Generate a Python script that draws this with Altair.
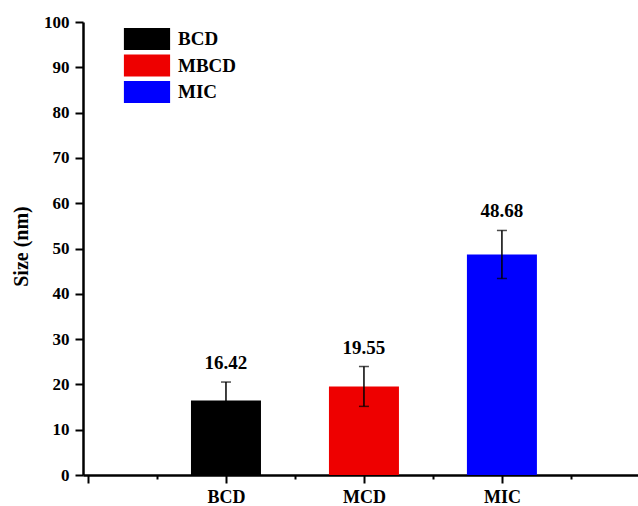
import altair as alt
import pandas as pd

categories = ["BCD", "MCD", "MIC"]
legend_labels = ["BCD", "MBCD", "MIC"]
positions = [1, 2, 3]
sizes = [16.42, 19.55, 48.68]
errors = [4.1, 4.4, 5.3]
colors = ["#000000", "#EE0000", "#0000FF"]

x_ticks = [0, 0.5, 1, 1.5, 2, 2.5, 3, 3.5]
y_ticks = list(range(0, 101, 5))

FONT = "Liberation Serif"

df = pd.DataFrame({
    "pos": positions,
    "cat": categories,
    "legend": legend_labels,
    "size": sizes,
    "err": errors,
})
df["lo"] = df["size"] - df["err"]
df["hi"] = df["size"] + df["err"]

label_expr = " : ".join(
    [f"datum.value == {p} ? '{c}'" for p, c in zip(positions, categories)]
) + " : ''"

x_scale = alt.Scale(domain=[0, 3.95], nice=False, zero=False)
y_scale = alt.Scale(domain=[0, 100], nice=False)

x_axis = alt.Axis(
    values=x_ticks,
    labelExpr=label_expr,
    title=None,
    grid=False,
    domainColor="black",
    domainWidth=2.5,
    tickColor="black",
    tickWidth=2,
    tickSize={"condition": {"test": "datum.value % 1 === 0", "value": 8}, "value": 4},
    labelFont=FONT,
    labelFontSize=18,
    labelFontWeight="bold",
    labelColor="black",
    labelPadding=5,
    labelOverlap=False,
    labelFlush=False,
)

y_axis = alt.Axis(
    values=y_ticks,
    labelExpr="datum.value % 10 === 0 ? datum.value : ''",
    title="Size (nm)",
    grid=False,
    domainColor="black",
    domainWidth=2.5,
    tickColor="black",
    tickWidth=2,
    tickSize={"condition": {"test": "datum.value % 10 === 0", "value": 8}, "value": 4},
    labelFont=FONT,
    labelFontSize=17,
    labelFontWeight="bold",
    labelColor="black",
    labelPadding=6,
    labelOverlap=False,
    labelFlush=False,
    titleFont=FONT,
    titleFontSize=20,
    titleFontWeight="bold",
    titleColor="black",
    titleAngle=-90,
    titleX=-62,
    titleY=224,
    titleAlign="center",
    titleBaseline="middle",
)

base = alt.Chart(df)

bars = base.mark_bar(size=70).encode(
    x=alt.X("pos:Q", scale=x_scale, axis=x_axis),
    y=alt.Y("size:Q", scale=y_scale, axis=y_axis),
    color=alt.Color(
        "legend:N",
        scale=alt.Scale(domain=legend_labels, range=colors),
        legend=alt.Legend(
            orient="none",
            legendX=53,
            legendY=6,
            title=None,
            padding=0,
            symbolType="M-2.1,-1L2.1,-1L2.1,1L-2.1,1Z",
            symbolSize=484,
            symbolStrokeWidth=0,
            symbolOpacity=1,
            labelOffset=20,
            labelFont=FONT,
            labelFontSize=19,
            labelFontWeight="bold",
            labelColor="black",
            rowPadding=4.5,
        ),
    ),
)

rules = base.mark_rule(color="black", strokeWidth=1.5).encode(
    x="pos:Q",
    y="lo:Q",
    y2="hi:Q",
)

caps_hi = base.mark_tick(orient="horizontal", size=10, thickness=1.5, color="black").encode(
    x="pos:Q",
    y="hi:Q",
)
caps_lo = base.mark_tick(orient="horizontal", size=10, thickness=1.5, color="black").encode(
    x="pos:Q",
    y="lo:Q",
)

labels = base.mark_text(
    dy=-13,
    baseline="alphabetic",
    font=FONT,
    fontSize=19,
    fontWeight="bold",
    color="black",
).encode(
    x="pos:Q",
    y="hi:Q",
    text=alt.Text("size:Q", format=".2f"),
)

chart = (
    alt.layer(bars, rules, caps_hi, caps_lo, labels)
    .properties(
        width=555,
        height=453,
        autosize=alt.AutoSizeParams(type="none"),
        padding={"left": 83, "top": 22, "right": 0, "bottom": 31},
        background="white",
    )
    .configure_view(stroke=None)
)

chart.save("out.html", embed_options={"renderer": "svg", "actions": False})
